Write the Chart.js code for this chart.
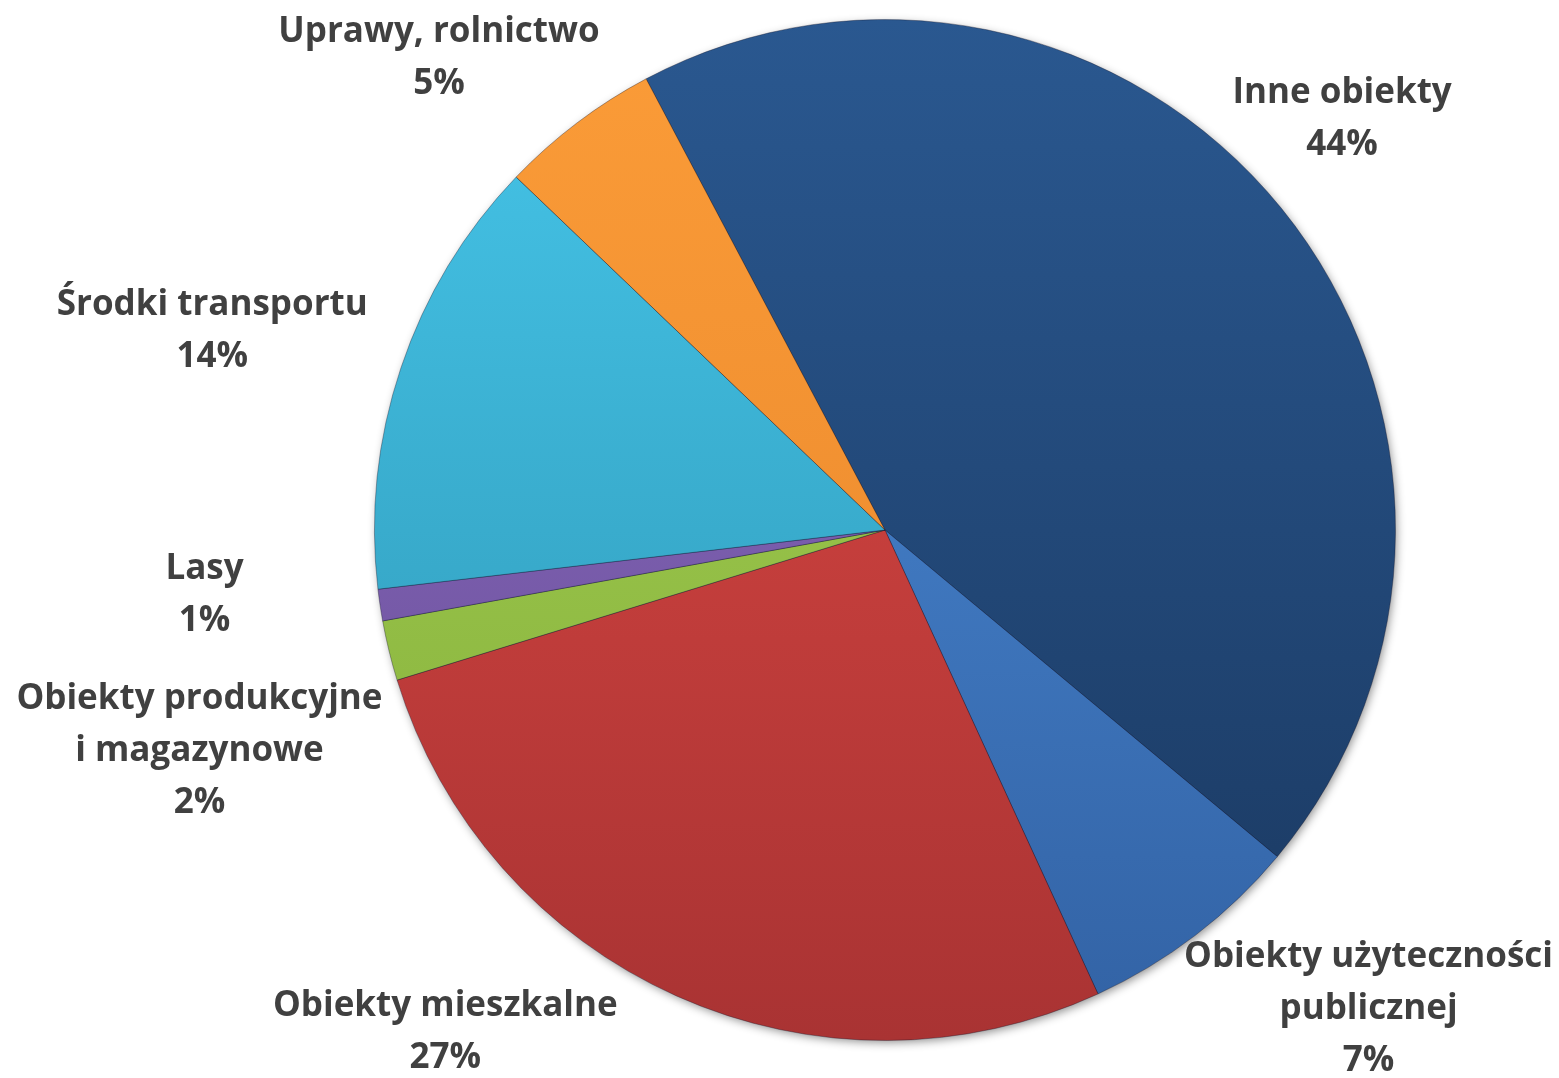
<!DOCTYPE html>
<html>
<head>
<meta charset="utf-8">
<script src="https://cdn.jsdelivr.net/npm/chart.js@4.4.1/dist/chart.umd.min.js"></script>
<style>
  html, body { margin: 0; padding: 0; background: #ffffff; }
  #wrap { width: 1559px; height: 1078px; }
</style>
</head>
<body>
<div id="wrap"><canvas id="c" width="1559" height="1078"></canvas></div>
<script>
// ---- data ----
const categories = [
  "Inne obiekty",
  "Obiekty użyteczności publicznej",
  "Obiekty mieszkalne",
  "Obiekty produkcyjne i magazynowe",
  "Lasy",
  "Środki transportu",
  "Uprawy, rolnictwo"
];
const labelLines = [
  ["Inne obiekty"],
  ["Obiekty użyteczności", "publicznej"],
  ["Obiekty mieszkalne"],
  ["Obiekty produkcyjne", "i magazynowe"],
  ["Lasy"],
  ["Środki transportu"],
  ["Uprawy, rolnictwo"]
];
const shares = [43.8, 7.1, 27.1, 1.9, 1.0, 14.0, 5.1];

// ---- styles ----
const topColors    = ["#2a5890", "#4d8edb", "#e14a45", "#a6d257", "#8d70c4", "#46c6ea", "#fb9c38"];
const bottomColors = ["#1a3860", "#3262a4", "#a93333", "#84ae38", "#664a94", "#2c92b0", "#e6842a"];

// label placement: angle offset (deg) from slice middle, and radius factor
const labelAngleOffset = [-2.9, -7.8, 17.1, -4.2, 3.0, -2.1, -6.3];
const labelRadiusFactor = [1.204, 1.334, 1.307, 1.411, 1.339, 1.374, 1.272];

function makeGradient(ctx, area, i) {
  const g = ctx.createLinearGradient(0, area.top, 0, area.bottom);
  g.addColorStop(0, topColors[i]);
  g.addColorStop(1, bottomColors[i]);
  return g;
}

const shadowPlugin = {
  id: 'pieShadow',
  beforeDatasetsDraw(chart) {
    const meta = chart.getDatasetMeta(0);
    if (!meta.data.length) return;
    const a = meta.data[0];
    const ctx = chart.ctx;
    ctx.save();
    ctx.shadowColor = 'rgba(0,0,0,0.45)';
    ctx.shadowBlur = 10;
    ctx.shadowOffsetX = 2;
    ctx.shadowOffsetY = 3;
    ctx.fillStyle = '#1f4170';
    ctx.beginPath();
    ctx.arc(a.x, a.y, a.outerRadius - 1, 0, Math.PI * 2);
    ctx.fill();
    ctx.restore();
  }
};

const labelPlugin = {
  id: 'outerLabels',
  afterDatasetsDraw(chart) {
    const meta = chart.getDatasetMeta(0);
    const ctx = chart.ctx;
    const data = chart.data.datasets[0].data;
    const total = data.reduce((s, v) => s + v, 0);
    ctx.save();
    ctx.font = "bold 35px 'Open Sans', Lato, sans-serif";
    ctx.fillStyle = '#404040';
    ctx.textAlign = 'center';
    ctx.textBaseline = 'middle';
    const lineH = 52;
    meta.data.forEach((arc, i) => {
      const mid = (arc.startAngle + arc.endAngle) / 2 + labelAngleOffset[i] * Math.PI / 180;
      const r = arc.outerRadius * labelRadiusFactor[i];
      const cx = arc.x + Math.cos(mid) * r;
      const cy = arc.y + Math.sin(mid) * r;
      const lines = labelLines[i].concat([Math.round(data[i] / total * 100) + '%']);
      const y0 = cy - (lines.length - 1) * lineH / 2;
      lines.forEach((t, k) => ctx.fillText(t, cx, y0 + k * lineH));
    });
    ctx.restore();
  }
};

new Chart(document.getElementById('c'), {
  type: 'pie',
  data: {
    labels: categories,
    datasets: [{
      data: shares,
      backgroundColor: (c) => {
        const area = c.chart.chartArea;
        if (!area) return topColors[c.dataIndex];
        return makeGradient(c.chart.ctx, area, c.dataIndex);
      },
      borderColor: 'rgba(20,20,40,0.35)',
      borderWidth: 1,
      hoverOffset: 0
    }]
  },
  options: {
    responsive: false,
    animation: false,
    rotation: -27.9,
    layout: { padding: { top: 19, bottom: 37, left: 211, right: 0 } },
    plugins: {
      legend: { display: false },
      tooltip: { enabled: false }
    },
    events: []
  },
  plugins: [shadowPlugin, labelPlugin]
});
</script>
</body>
</html>
